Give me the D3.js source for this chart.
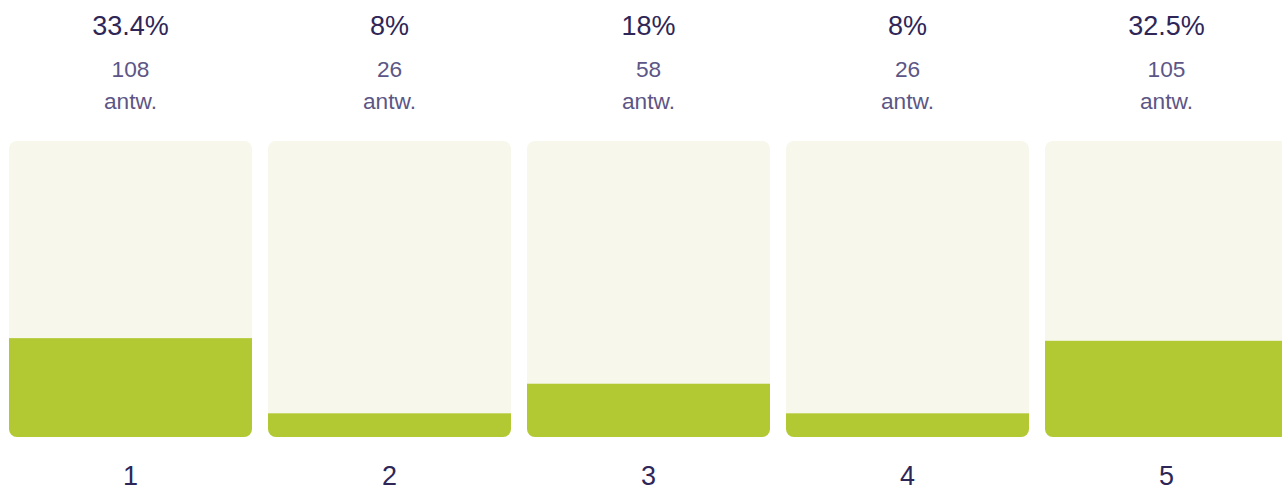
<!DOCTYPE html>
<html>
<head>
<meta charset="utf-8">
<script src="https://cdn.jsdelivr.net/npm/d3@7"></script>
<style>
  body { margin: 0; background: #fff; overflow: hidden; }
  text { font-family: Arial, "Liberation Sans", sans-serif; }
</style>
</head>
<body>
<svg id="chart" width="1282" height="492"></svg>
<script>
// values
const categories = ["1", "2", "3", "4", "5"];
const percents = [33.4, 8, 18, 8, 32.5];
const counts = [108, 26, 58, 26, 105];
const unitLabel = "antw.";

const svg = d3.select("#chart");

// bands: first bar starts at x=9, step ~259, gap 16
let x = d3.scaleBand()
  .domain(categories)
  .range([9, 1288])
  .paddingInner(16 / 259)
  .paddingOuter(0);

let y = d3.scaleLinear()
  .domain([0, 100])
  .range([437, 141]);

const data = categories.map((c, i) => ({ cat: c, pct: percents[i], n: counts[i] }));

// clip paths so the fill keeps the rounded bottom corners
const defs = svg.append("defs");
defs.selectAll("clipPath")
  .data(data)
  .join("clipPath")
  .attr("id", (d, i) => "clip" + i)
  .append("rect")
  .attr("x", d => x(d.cat))
  .attr("y", y(100))
  .attr("width", x.bandwidth())
  .attr("height", y(0) - y(100))
  .attr("rx", 8);

let col = svg.selectAll("g.col")
  .data(data)
  .join("g")
  .attr("class", "col");

col.append("rect")
  .attr("x", d => x(d.cat))
  .attr("y", y(100))
  .attr("width", x.bandwidth())
  .attr("height", y(0) - y(100))
  .attr("rx", 8)
  .attr("fill", "#f7f8eb");

col.append("rect")
  .attr("clip-path", (d, i) => "url(#clip" + i + ")")
  .attr("x", d => x(d.cat))
  .attr("y", d => y(d.pct))
  .attr("width", x.bandwidth())
  .attr("height", d => y(0) - y(d.pct))
  .attr("fill", "#b3c933");

const cx = d => x(d.cat) + x.bandwidth() / 2;

col.append("text")
  .attr("x", cx)
  .attr("y", 35)
  .attr("text-anchor", "middle")
  .attr("font-size", 27)
  .attr("fill", "#2e2657")
  .text(d => d.pct + "%");

col.append("text")
  .attr("x", cx)
  .attr("y", 77)
  .attr("text-anchor", "middle")
  .attr("font-size", 22.7)
  .attr("fill", "#5c5686")
  .text(d => d.n);

col.append("text")
  .attr("x", cx)
  .attr("y", 109)
  .attr("text-anchor", "middle")
  .attr("font-size", 22.7)
  .attr("fill", "#5c5686")
  .text(unitLabel);

// category labels under the bars
col.append("text")
  .attr("x", cx)
  .attr("y", 485)
  .attr("text-anchor", "middle")
  .attr("font-size", 27)
  .attr("fill", "#2e2657")
  .text(d => d.cat);
</script>
</body>
</html>
